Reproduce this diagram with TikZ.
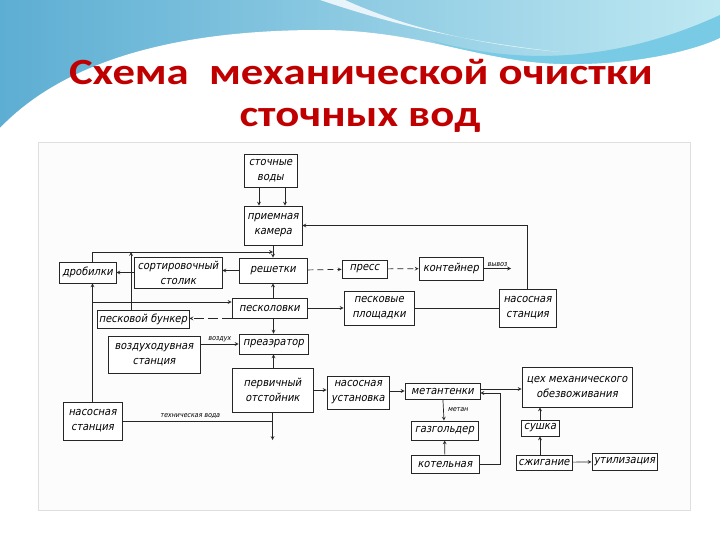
\documentclass[tikz,border=0pt]{standalone}
\usepackage{fontspec}
\setmainfont{Carlito}
\newfontfamily\gost[FakeSlant=0.2]{DejaVu Sans Condensed}
\usetikzlibrary{arrows,positioning,calc}
\definecolor{ttlred}{HTML}{C00000}
\definecolor{skydark}{HTML}{5DAED3}
\definecolor{skylight}{HTML}{BFE8F2}
\definecolor{teal}{HTML}{3FB4D8}

\begin{document}
\begin{tikzpicture}[x=1pt,y=-1pt,>=stealth]
\tikzstyle{box}=[draw=black!85,line width=0.9pt,inner sep=1pt,align=center,
	font=\gost\fontsize{11}{15}\selectfont,fill=white]
\tikzstyle{wire}=[line width=0.7pt,draw=black!85]
\tikzstyle{tag}=[font=\gost\fontsize{7}{8}\selectfont,inner sep=1pt]
\tikzstyle{title}=[font=\bfseries\fontsize{37}{40}\selectfont,text=ttlred]
\useasboundingbox (0,0) rectangle (720,540);
\fill[white] (0,0) rectangle (720,540);
\shade[left color=skydark,right color=skylight] (0,0) rectangle (720,140);
\fill[teal!70] (430,40) .. controls (500,60) and (600,70) .. (720,15) -- (720,40)
	.. controls (650,75) and (520,75) .. (430,40) -- cycle;
\fill[white] (0,128) .. controls (70,55) and (190,30) .. (320,30)
	.. controls (420,30) and (480,62) .. (560,64) .. controls (640,66) and (700,48) .. (720,38)
	-- (720,540) -- (0,540) -- cycle;
\fill[white,opacity=0.8] (320,0) .. controls (380,20) and (450,40) .. (560,52)
	.. controls (470,44) and (400,25) .. (345,0) -- cycle;
\draw[gray!25,fill=gray!2] (38,142) rectangle (690,510);
\node[title] (t1) at (361,72) {\scalebox{1.21}[1]{Схема \ механической очистки}};
\node[title] (t2) at (360,120) {\scalebox{1.21}[1]{сточных вод}};

\node[box,minimum width=53pt,minimum height=33pt] (sv) at (270.5,170.5) {сточные\\воды};
\node[box,minimum width=58pt,minimum height=39pt] (pk) at (273,225.5) {приемная\\камера};
\node[box,minimum width=57pt,minimum height=21pt] (dr) at (87.5,272.5) {дробилки};
\node[box,minimum width=88pt,minimum height=31pt] (st) at (178,272.5) {сортировочный\\столик};
\node[box,minimum width=68pt,minimum height=25pt] (re) at (273,270.5) {решетки};
\node[box,minimum width=45pt,minimum height=18pt] (pr) at (364.5,269) {пресс};
\node[box,minimum width=64pt,minimum height=23pt] (ko) at (451,268.5) {контейнер};
\node[box,minimum width=75pt,minimum height=20pt] (pe) at (269.5,308) {песколовки};
\node[box,minimum width=70pt,minimum height=34pt] (pp) at (379,308) {песковые\\площадки};
\node[box,minimum width=57pt,minimum height=38pt] (ns1) at (527.5,308) {насосная\\станция};
\node[box,minimum width=92pt,minimum height=18pt] (pb) at (143,319) {песковой бункер};
\node[box,minimum width=92pt,minimum height=37pt] (vs) at (154,354.5) {воздуходувная\\станция};
\node[box,minimum width=69pt,minimum height=20pt] (pa) at (273.5,344) {преаэратор};
\node[box,minimum width=81pt,minimum height=44pt] (po) at (272.5,390) {первичный\\отстойник};
\node[box,minimum width=59pt,minimum height=38pt] (ns2) at (92.5,421) {насосная\\станция};
\node[box,minimum width=62pt,minimum height=33pt] (nu) at (358,392.5) {насосная\\установка};
\node[box,minimum width=75pt,minimum height=16pt] (mt) at (442.5,391) {метантенки};
\node[box,minimum width=110pt,minimum height=40pt] (cx) at (577,387) {цех механического\\обезвоживания};
\node[box,minimum width=67pt,minimum height=19pt] (gg) at (444.5,430.5) {газгольдер};
\node[box,minimum width=68pt,minimum height=18pt] (kt) at (445,464) {котельная};
\node[box,minimum width=38pt,minimum height=16pt] (su) at (540,428) {сушка};
\node[box,minimum width=56pt,minimum height=15pt] (sz) at (544,462.5) {сжигание};
\node[box,minimum width=65pt,minimum height=17pt] (ut) at (624.5,461.5) {утилизация};

\coordinate (j1) at (92.5,302);
\coordinate (j2) at (273,252);
\coordinate (j3) at (po.south |- ns2.east);
\coordinate (drain) at (272.5,440);
\coordinate (away) at (511,268.5);

\draw[wire,->] (sv.south -| 259,0) -- (pk.north -| 259,0);
\draw[wire,->] (sv.south -| 285,0) -- (pk.north -| 285,0);
\draw[wire,->] (ns1.north) |- (pk.east);
\draw[wire,->] (pk) -- (re);
\draw[wire,->] (re.west) -- (re.west -| st.east);
\draw[wire,->] (st) -- (dr);
\draw[wire,->,dashed,dash pattern=on 6pt off 4pt] (re) -- (pr);
\draw[wire,->,dashed,dash pattern=on 6pt off 4pt] (pr) -- (ko);
\draw[wire,->] (ko) -- (away) node[tag,midway,above=1pt] {вывоз};
\draw[wire,->] (pe.north -| re) -- (re);
\draw[wire,->] (pe) -- (pp);
\draw[wire] (pp) -- (ns1);
\draw[wire,->,dashed,dash pattern=on 10pt off 4pt] (pe.south west) -- (pe.south west -| pb.east);
\draw[wire,->] (ns2) -- (ns2 |- dr.south);
\draw[wire,->] (j1) -- (j1 -| pe.west);
\draw[wire,->] (j1 |- dr.north) |- (j2);
\draw[wire,->] (pb.north -| 131,0) -- (j2 -| 131,0);
\draw[wire,->] (pe.south -| pa) -- (pa);
\draw[wire,->] (po.north -| pa) -- (pa);
\draw[wire,->] (vs.east |- pa.west) -- (pa.west) node[tag,midway,above=1pt] {воздух};
\draw[wire] (ns2.east) -- (j3) node[tag,pos=0.45,above=1pt] {техническая вода};
\draw[wire,->] (po) -- (drain);
\draw[wire,->] (po.east) -- (po.east -| nu.west);
\draw[wire,->] (nu.east |- mt.west) -- (mt.west);
\draw[wire,->] ([yshift=2pt]mt.east) -- ([yshift=2pt]mt.east -| cx.west);
\draw[wire,->] (mt) -- (gg) node[tag,midway,right=3pt] {метан};
\draw[wire,->] (kt) -- (gg);
\draw[wire,->] (kt.east) -| (500,393) -- ([yshift=-2pt]mt.east);
\draw[wire,->] (su) -- (su |- cx.south);
\draw[wire,->] (sz.north -| su) -- (su);
\draw[wire,->] (sz) -- (ut);

\end{tikzpicture}
\end{document}
